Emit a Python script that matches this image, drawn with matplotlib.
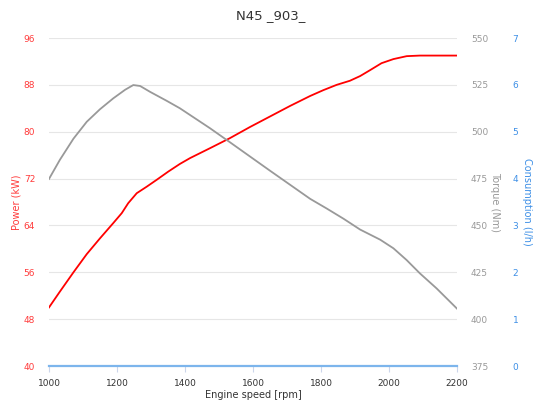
import numpy as np
import matplotlib.pyplot as plt

# engine speed [rpm] and readings taken off the curves
rpm_p = [1000, 1032, 1072, 1111, 1150, 1189, 1214, 1233, 1258, 1287, 1317, 1351,
         1385, 1415, 1474, 1532, 1591, 1650, 1709, 1768, 1807, 1846, 1885, 1915,
         1944, 1978, 2013, 2052, 2091, 2140, 2200]
power = [50.0, 52.7, 56.0, 59.1, 61.8, 64.4, 66.1, 67.8, 69.5, 70.6, 71.8, 73.2,
         74.5, 75.5, 77.2, 78.9, 80.8, 82.6, 84.4, 86.1, 87.1, 88.0, 88.7, 89.5,
         90.5, 91.7, 92.4, 92.9, 93.0, 93.0, 93.0]

rpm_t = [1000, 1032, 1072, 1111, 1150, 1189, 1224, 1248, 1268, 1297, 1346, 1385,
         1415, 1474, 1503, 1532, 1591, 1650, 1709, 1768, 1817, 1866, 1915, 1974,
         2013, 2052, 2091, 2140, 2200]
torque = [474.8, 485.0, 496.3, 505.3, 512.0, 517.8, 522.4, 524.9, 524.4, 521.3,
          516.5, 512.5, 508.9, 501.8, 498.1, 494.4, 486.8, 479.2, 471.7, 464.2,
          459.0, 453.6, 447.8, 442.4, 437.8, 431.5, 424.4, 416.4, 405.6]

rpm_c = [1000, 2200]
consumption = [0, 0]

power_ticks = [40, 48, 56, 64, 72, 80, 88, 96]
torque_ticks = [375, 400, 425, 450, 475, 500, 525, 550]
cons_ticks = [0, 1, 2, 3, 4, 5, 6, 7]
x_ticks = [1000, 1200, 1400, 1600, 1800, 2000, 2200]

RED = '#ff0000'
RED_TXT = '#ff3b3b'
GRAY = '#999999'
BLUE_TXT = '#3d8fe6'

fig = plt.figure(figsize=(5.33, 4.01), dpi=100)
ax = fig.add_axes([49 / 533, 1 - 366 / 401, 408 / 533, 328 / 401])

ax.set_xlim(1000, 2200)
ax.set_ylim(40, 96)
ax.set_yticks(power_ticks)
ax.set_xticks(x_ticks)
ax.grid(axis='y', color='#e6e6e6', linewidth=0.8)
ax.set_axisbelow(True)
for s in ax.spines.values():
    s.set_visible(False)
ax.tick_params(axis='y', length=0, pad=10, labelsize=6.5, labelcolor=RED_TXT)
ax.tick_params(axis='x', length=4.3, color='#ccd6eb', pad=5, labelsize=6.5,
               labelcolor='#333333')
ax.set_ylabel('Power (kW)', color=RED_TXT, fontsize=7)
ax.yaxis.set_label_coords((17 - 49) / 408, 0.5)
ax.yaxis.label.set_va('center')
ax.set_xlabel('Engine speed [rpm]', color='#333333', fontsize=7, labelpad=1.5)
ax.plot(rpm_p, power, color=RED, linewidth=1.3, zorder=3)

ax2 = ax.twinx()
ax2.set_ylim(375, 550)
ax2.set_yticks(torque_ticks)
for s in ax2.spines.values():
    s.set_visible(False)
ax2.tick_params(axis='y', length=0, pad=10, labelsize=6.5, labelcolor=GRAY)
ax2.set_ylabel('Torque (Nm)', color=GRAY, fontsize=7, rotation=-90)
ax2.yaxis.set_label_coords((495 - 49) / 408, 0.5)
ax2.yaxis.label.set_va('center')
ax2.plot(rpm_t, torque, color=GRAY, linewidth=1.3, zorder=3)

ax3 = ax.twinx()
ax3.set_ylim(0, 7)
ax3.set_yticks(cons_ticks)
for s in ax3.spines.values():
    s.set_visible(False)
ax3.tick_params(axis='y', length=0, pad=40, labelsize=6.5, labelcolor=BLUE_TXT)
ax3.set_ylabel('Consumption (l/h)', color=BLUE_TXT, fontsize=7, rotation=-90)
ax3.yaxis.set_label_coords((527 - 49) / 408, 0.5)
ax3.yaxis.label.set_va('center')
ax3.plot(rpm_c, consumption, color='#7cb5ec', linewidth=1.6, zorder=4,
         clip_on=False)

fig.suptitle('N45 _903_', x=271 / 533, y=0.978, fontsize=9.5, color='#333333')

fig.savefig('out.png', dpi=100)
